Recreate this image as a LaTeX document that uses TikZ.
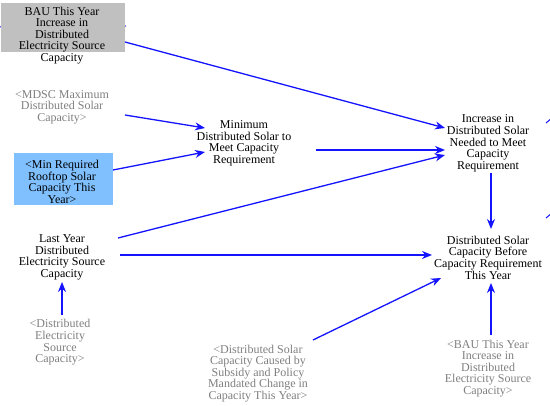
\documentclass[tikz,border=0pt]{standalone}
\usepackage{fontspec}
\setmainfont{Liberation Serif}
\usetikzlibrary{arrows.meta}
\definecolor{arrblue}{RGB}{20,20,255}
\definecolor{ghost}{RGB}{128,128,128}
\definecolor{boxgray}{RGB}{192,192,192}
\definecolor{boxblue}{RGB}{128,192,255}
\tikzset{
  var/.style={align=center,inner sep=1pt,font=\fontsize{12}{11.6}\selectfont},
  shadow/.style={var,text=ghost},
  link/.style={draw=arrblue,line width=1.3pt,-{Stealth[length=10pt,width=8pt]}},
  frag/.style={draw=arrblue,line width=1pt}
}
\begin{document}
\begin{tikzpicture}[x=1pt,y=-1pt]
\useasboundingbox (0,0) rectangle (550,406);
\fill[white] (0,0) rectangle (550,406);
% fragment hidden behind the gray box
\coordinate (fa) at (-2,27);
\coordinate (fb) at (126,26);
\draw[frag] (fa) -- (fb);
\fill[boxgray] (1,3) rectangle (125,52);
\fill[boxblue] (14,153) rectangle (113,205);

\node[var] (bau) at (62,35.5) {BAU This Year\\Increase in\\Distributed\\Electricity Source\\Capacity};
\node[shadow] (mdsc) at (62,107) {<MDSC Maximum\\Distributed Solar\\Capacity>};
\node[var] (minreq) at (62,182) {<Min Required\\Rooftop Solar\\Capacity This\\Year>};
\node[var] (last) at (62,257.5) {Last Year\\Distributed\\Electricity Source\\Capacity};
\node[shadow] (desc) at (60,342.5) {<Distributed\\Electricity\\Source\\Capacity>};
\node[var] (mindist) at (244,143.5) {Minimum\\Distributed Solar to\\Meet Capacity\\Requirement};
\node[var] (incr) at (488,143.5) {Increase in\\Distributed Solar\\Needed to Meet\\Capacity\\Requirement};
\node[var] (before) at (488,257.5) {Distributed Solar\\Capacity Before\\Capacity Requirement\\This Year};
\node[shadow] (subs) at (258,373.5) {<Distributed Solar\\Capacity Caused by\\Subsidy and Policy\\Mandated Change in\\Capacity This Year>};
\node[shadow] (baub) at (488,368.5) {<BAU This Year\\Increase in\\Distributed\\Electricity Source\\Capacity>};

\draw[link] (125,42) -- (445,128);
\draw[link] (125,115) -- (205,128);
\draw[link] (113,170) -- (205,152);
\draw[link] (316,150) -- (445,150);
\draw[link] (118,238) -- (445,155);
\draw[link] (120,255) -- (432,255);
\draw[link] (62,315) -- (62,282);
\draw[link] (491,173) -- (491,229);
\draw[link] (313,340) -- (441,278);
\draw[link] (491,335) -- (491,283);

% fragments leaving the right edge
\coordinate (r1a) at (546,123);
\coordinate (r1b) at (552,118);
\coordinate (r2a) at (546,218);
\coordinate (r2b) at (552,213);
\draw[frag] (r1a) -- (r1b);
\draw[frag] (r2a) -- (r2b);
\end{tikzpicture}
\end{document}
